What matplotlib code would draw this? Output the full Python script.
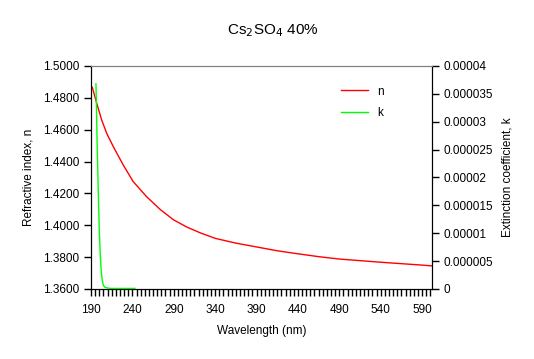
import numpy as np
import matplotlib.pyplot as plt
from matplotlib.ticker import MultipleLocator, FuncFormatter

plt.rcParams['font.family'] = ['Liberation Sans', 'DejaVu Sans']

# refractive index n
wl_n = [191.6, 196.9, 202.9, 209, 217, 229, 241, 257.3, 273.4, 289.5, 305.7,
        321.8, 340, 365, 390, 415, 440, 465, 490, 515, 540, 565, 590, 602]
n_vals = [1.4866, 1.4766, 1.4661, 1.4577, 1.4493, 1.4378, 1.4274, 1.4179, 1.4100,
          1.4035, 1.3989, 1.3953, 1.3918, 1.3888, 1.3864, 1.3840, 1.3821, 1.3803,
          1.3788, 1.3778, 1.3768, 1.3759, 1.3750, 1.3745]

# extinction coefficient k
wl_k = [196, 196.5, 197.5, 198.7, 200, 201.2, 202.4, 203.6, 204.8, 206.8,
        210.8, 214.9, 243]
k_vals = [3.68e-5, 3.33e-5, 2.55e-5, 1.81e-5, 1.06e-5, 0.61e-5, 0.31e-5,
          0.16e-5, 0.07e-5, 0.03e-5, 0.015e-5, 0.01e-5, 0.01e-5]

fig = plt.figure(figsize=(5.34, 3.59), dpi=100)
ax = fig.add_axes([0.1704, 0.195, 0.8090 - 0.1704, 0.8162 - 0.195])
ax2 = ax.twinx()

ln1, = ax.plot(wl_n, n_vals, color='#ff0000', lw=1, label='n')
ln2, = ax2.plot(wl_k, k_vals, color='#00ff00', lw=1, label='k')

ax.set_xlim(190, 602)
ax.set_ylim(1.36, 1.50)
ax2.set_ylim(0, 0.00004)

ax.set_xticks(np.arange(190, 600, 50))
ax.xaxis.set_minor_locator(MultipleLocator(5))
ax.yaxis.set_major_locator(MultipleLocator(0.02))
ax.yaxis.set_major_formatter(FuncFormatter(lambda v, p: f"{v:.4f}"))
ax2.yaxis.set_major_locator(MultipleLocator(0.000005))


def kfmt(v, p):
    if abs(v) < 1e-12:
        return "0"
    return f"{v:.6f}".rstrip('0')


ax2.yaxis.set_major_formatter(FuncFormatter(kfmt))

ax.tick_params(axis='x', which='both', direction='out', length=5, width=1,
               labelsize=8.5, pad=6)
ax.tick_params(axis='y', direction='out', length=5, width=1, labelsize=8.5)
ax2.tick_params(axis='y', direction='out', length=5, width=1, labelsize=8.5)

for a in (ax, ax2):
    a.spines['top'].set_color('#808080')
    for s in ('left', 'right', 'bottom'):
        a.spines[s].set_color('black')

ax.set_xlabel("Wavelength (nm)", fontsize=8.5, labelpad=6)
ax.set_ylabel("Refractive index, n", fontsize=8.5, labelpad=6)
ax2.set_ylabel("Extinction coefficient, k", fontsize=8.5, labelpad=6)

fig.text(0.51, 0.915, "Cs$_2$SO$_4$ 40%", ha='center', va='center', fontsize=11)

ax.legend(handles=[ln1, ln2], loc='upper right', bbox_to_anchor=(0.89, 0.96),
          frameon=False, fontsize=8.5, handlelength=2.3, labelspacing=0.8)

fig.savefig("out.png", dpi=100)
